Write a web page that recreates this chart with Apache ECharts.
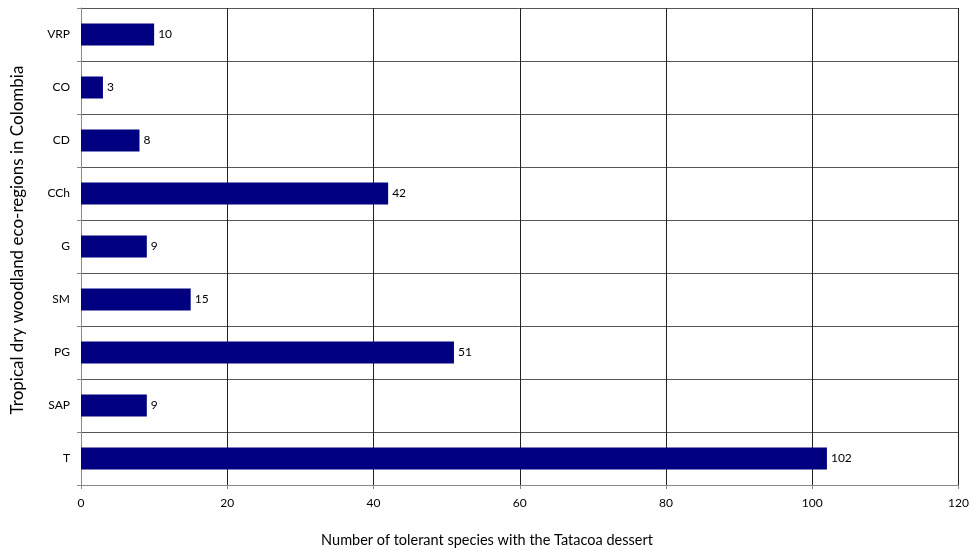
<!DOCTYPE html>
<html><head><meta charset="utf-8">
<script src="https://cdn.jsdelivr.net/npm/echarts@6/dist/echarts.min.js"></script>
<style>html,body{margin:0;padding:0;background:#fff}#c{width:972px;height:550px}</style>
</head><body><div id="c"></div>
<script>
const categories = ['T','SAP','PG','SM','G','CCh','CD','CO','VRP'];
const values = [102,9,51,15,9,42,8,3,10];
const xTicks = [0,20,40,60,80,100,120];
const FONT = 'Lato, "Open Sans", sans-serif';
const chart = echarts.init(document.getElementById('c'), null, {renderer:'canvas'});
chart.setOption({
  animation:false,
  backgroundColor:'#fff',
  grid:{left:81,right:12,top:8,bottom:65,containLabel:false},
  xAxis:{type:'value',min:xTicks[0],max:xTicks[xTicks.length-1],interval:20,
    axisLine:{show:true,lineStyle:{color:'#888',width:1}},
    axisTick:{show:true,length:4,lineStyle:{color:'#888'}},
    axisLabel:{fontFamily:FONT,fontSize:12,color:'#000',margin:12},
    splitLine:{show:true,lineStyle:{color:'#222',width:1}}},
  yAxis:{type:'category',data:categories,boundaryGap:true,
    axisLine:{show:true,lineStyle:{color:'#888',width:1}},
    axisTick:{show:true,length:4,inside:false,lineStyle:{color:'#888'}},
    axisLabel:{fontFamily:FONT,fontSize:12,color:'#000',margin:11},
    splitLine:{show:true,lineStyle:{color:'#555',width:1}}},
  graphic:[
    {type:'text',x:487,y:540,
      style:{text:'Number of tolerant species with the Tatacoa dessert',fontFamily:FONT,fontSize:14.5,fill:'#000',align:'center',verticalAlign:'middle'}},
    {type:'text',x:18,y:240,rotation:Math.PI/2,
      style:{text:'Tropical dry woodland eco-regions in Colombia',fontFamily:FONT,fontSize:17,fill:'#000',align:'center',verticalAlign:'middle'}}],
  series:[{type:'bar',data:values,barWidth:22,itemStyle:{color:'#000080'},
    label:{show:true,position:'right',distance:4,fontFamily:FONT,fontSize:12,color:'#000'}}]
});
</script></body></html>
